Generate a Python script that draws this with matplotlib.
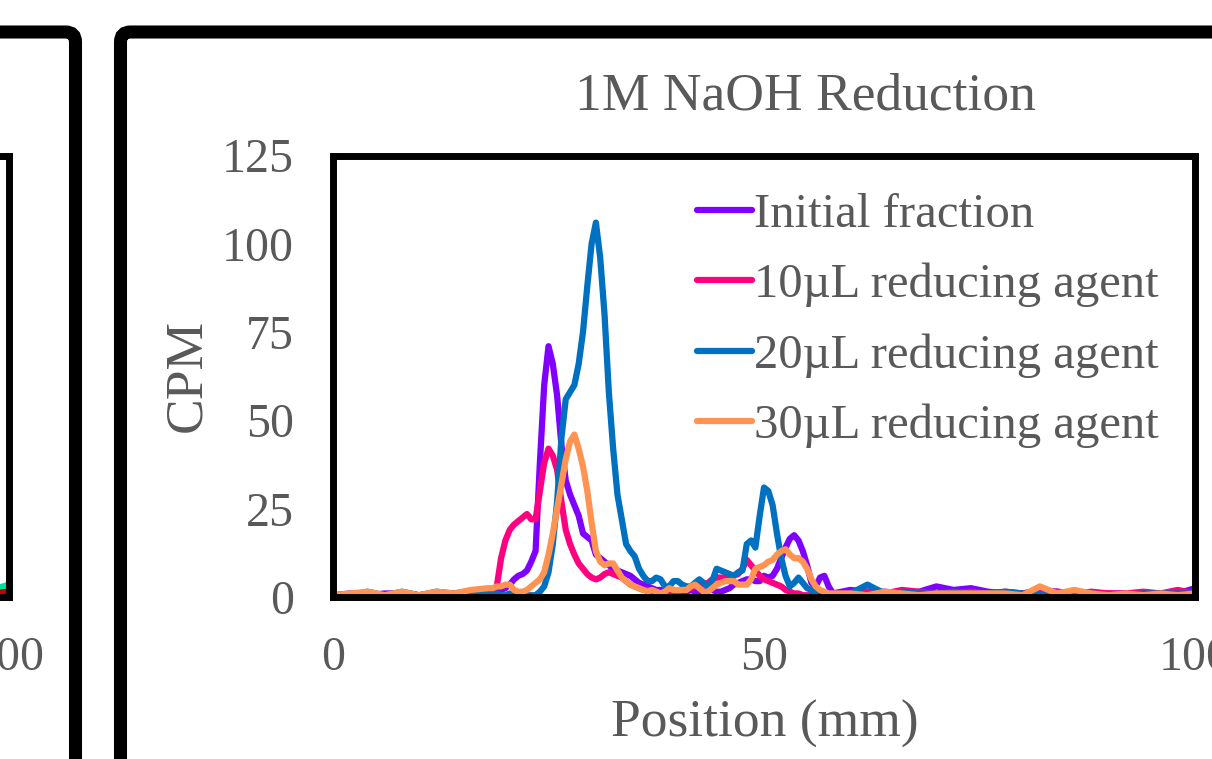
import numpy as np
import matplotlib
matplotlib.use("Agg")
import matplotlib.pyplot as plt
from matplotlib.patches import FancyBboxPatch
from matplotlib.transforms import IdentityTransform

# positions (mm): coarse tails, finer around the peaks
position = np.concatenate([np.arange(0, 18, 2), np.arange(18, 58.5, 0.5), np.arange(60, 101, 2)])

initial = [0.5, 1, 0.5, 1, 1, 0.5, 1, 1, 1.5,
           1.5, 1.5, 2, 2, 2.5, 3.5, 5, 6, 6.5, 7.5,
           10, 13, 38, 60, 71, 66, 57, 43, 33, 29,
           26, 23, 18, 17, 16, 12, 11, 10, 9, 8,
           7.5, 7, 6.5, 6, 5, 4, 3.5, 3, 2.5, 2,
           2, 1.5, 1.5, 2, 1.5, 1, 1.5, 2, 1.5, 1.5,
           1.5, 2, 2, 1.5, 1.5, 2, 2.5, 3.5, 4, 4.5,
           5, 5, 4.5, 4.5, 6, 5.5, 6, 8, 11, 14,
           16.5, 17.5, 16, 13, 9, 4, 3, 5.5, 6, 3,
           1,
           2, 1.5, 1.5, 1, 1.5, 3, 2, 2.5, 1.5, 1, 1, 2, 1.5, 1, 1, 1, 1, 1, 1, 1, 2.5]

ul10 = [0.5, 0.5, 1, 0.5, 1, 0.5, 1, 1, 1,
        1, 1, 3, 11, 16, 19, 20.5, 21.5, 22.5, 23.5,
        22, 22, 30, 38, 42, 40, 36, 27, 19, 15,
        12, 9.5, 8, 6.5, 5.5, 5, 5.5, 6.5, 7, 6.5,
        6, 5.5, 4.5, 3.5, 3, 2.5, 2, 2, 1.5, 1.5,
        1, 1.5, 1.5, 1, 1.5, 2, 2, 2.5, 3, 3.5,
        3.5, 4, 5, 5.5, 5.5, 5.5, 6, 6, 6.5, 8,
        10.5, 9, 7.5, 6, 5, 4.5, 4, 3.5, 3, 2,
        1.5, 1, 1, 0.5, 0.5, 0.5, 1, 1, 0.5, 0.5,
        0.5,
        1, 1.5, 1, 2, 1.5, 1, 1, 1.5, 1, 1.5, 1, 1, 1.5, 1, 1.5, 1, 1, 1.5, 1, 2, 1]

ul20 = [0.5, 0.5, 1.5, 0.5, 1.5, 0.5, 1.5, 1, 1.5,
        1, 0.5, 1, 0.5, 0.5, 1, 0.5, 1, 1, 0.5,
        0.5, 0.5, 1.5, 3, 7, 15, 27, 45, 56, 58,
        60, 66, 75, 88, 100, 106, 96, 80, 58, 42,
        29, 22, 15, 13, 11.5, 8, 6, 4.5, 4.5, 5.5,
        5, 3, 3, 4.5, 4.5, 3.5, 3, 3, 4, 5,
        4, 3, 4.5, 8, 7.5, 7, 6.5, 6, 7, 7.5,
        15, 16, 14, 23, 31, 30, 26, 18, 11, 6,
        3, 4, 5.5, 4, 2.5, 2, 1, 1, 0.5, 0.5,
        0.5,
        1, 3.5, 1, 1.5, 1, 1, 1.5, 1, 1, 1.5, 1, 0.5, 1, 1.5, 1, 0.5, 0.5, 1, 1, 1, 1]

ul30 = [0.5, 1, 1.5, 0.5, 1.5, 0.5, 1.5, 1, 2,
        2.5, 2.5, 3, 3, 3.5, 3.5, 2, 1.5, 1.5, 2,
        3, 4, 5, 7, 12, 18, 25, 32, 39, 44,
        46, 42, 37, 30, 21, 13, 10, 9, 9.5, 9.5,
        7.5, 5.5, 4.5, 3.5, 3, 2.5, 2, 1.5, 2, 1.5,
        1, 1.5, 2.5, 2, 2, 2, 2, 3, 3.5, 2.5,
        1.5, 1.5, 2.5, 3.5, 4, 4.5, 4.5, 4.5, 3.5, 3.5,
        3.5, 5, 8, 8.5, 9, 10, 10.5, 12, 13, 13.5,
        12, 11, 11, 10, 8, 5, 3, 2, 1.5, 1,
        1,
        1, 0.5, 1.5, 1, 0.5, 1, 1, 1, 1, 1, 0.5, 3, 1, 2, 1, 0.5, 1, 0.5, 1, 0.5, 1]

labels = ["Initial fraction", "10\u00b5L reducing agent", "20\u00b5L reducing agent", "30\u00b5L reducing agent"]
colors = ["#8000ff", "#ff0080", "#0070c0", "#ff9452"]

# neighbouring panel, only its right edge is in view
left_pos = [94, 96, 98, 100]
left_a = [0.5, 1, 1.5, 3]
left_b = [1, 1.5, 2, 3.5]
left_c = [0.5, 1, 1, 1.5]
left_colors = ["#8000ff", "#00e0a0", "#c00000"]

plt.rcParams['font.family'] = ['Liberation Serif', 'DejaVu Serif']
grey = "#595959"
W, H = 1212, 759


def frac(left, top, w, h):
    return [left / W, 1 - (top + h) / H, w / W, h / H]


def style(a):
    for s in a.spines.values():
        s.set_linewidth(5)
        s.set_color("black")
    a.set_xlim(0, 100)
    a.set_ylim(0, 125)
    a.set_xticks([0, 50, 100])
    a.set_yticks(range(0, 126, 25))
    a.tick_params(length=0, labelsize=34.5, labelcolor=grey, pad=28)


fig = plt.figure(figsize=(12.12, 7.59), dpi=100)

ax2 = fig.add_axes(frac(9 - 862, 155.5, 862, 441.5))
style(ax2)
for vals, c in zip([left_a, left_b, left_c], left_colors):
    ax2.plot(left_pos, vals, color=c, lw=4.5)

ax = fig.add_axes(frac(333, 155.5, 862, 441.5))
style(ax)
for vals, c, lab in zip([initial, ul10, ul20, ul30], colors, labels):
    ax.plot(position, vals, color=c, lw=4.5, label=lab, solid_joinstyle="round", solid_capstyle="round")

ax.legend(loc="upper left", bbox_to_anchor=(697 / W, 1 - 193 / H), bbox_transform=fig.transFigure,
          frameon=False, fontsize=35, handlelength=1.13, handletextpad=0.05, labelspacing=0.53,
          borderpad=0, borderaxespad=0, labelcolor=grey)

fig.text(805 / W, 1 - 96 / H, "1M NaOH Reduction", ha="center", va="center", fontsize=38.5, color=grey)
fig.text(765 / W, 1 - 724 / H, "Position (mm)", ha="center", va="center", fontsize=38.5, color=grey)
fig.text(187 / W, 1 - 375 / H, "CPM", ha="center", va="center", rotation=90, fontsize=38.5, color=grey)

# outer panel borders (pixel coordinates)
for x0, w in [(-600, 675.5), (120.5, 1300)]:
    fig.add_artist(FancyBboxPatch((x0, -100), w, 827, boxstyle="round,pad=0,rounding_size=10",
                                  lw=9.4, ec="black", fc="none", transform=IdentityTransform()))

fig.savefig("out.png", dpi=100)
